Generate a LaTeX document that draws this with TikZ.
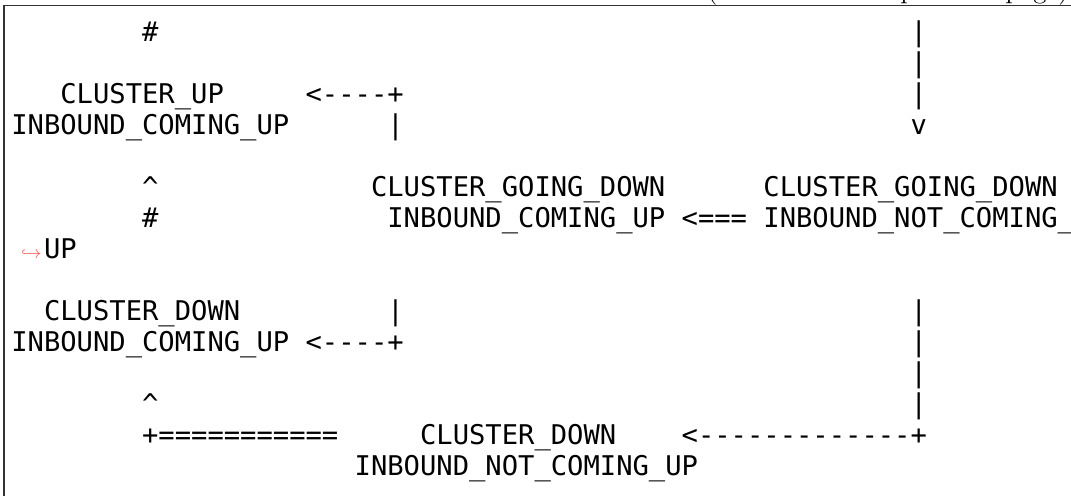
\documentclass[tikz,border=0pt]{standalone}
\usepackage{fontspec}
\setmonofont{DejaVu Sans Mono}
\usepackage{xcolor}
\usetikzlibrary{positioning}

\newcommand{\codesize}{\fontsize{13.58pt}{15.5pt}\selectfont}

\begin{document}
\begin{tikzpicture}[
    x=0.5pt, y=-0.5pt,
    code/.style={inner sep=0pt, outer sep=0pt, anchor=base west, font=\ttfamily\codesize},
    frameline/.style={draw=black!80, line width=0.6pt},
    hookmark/.style={inner sep=0pt, anchor=base east, text=red!65, font=\fontsize{9pt}{10pt}\selectfont}
]
\useasboundingbox (0,0) rectangle (1071,495);

% note from the page before, cut by the top edge
\node[anchor=base east, inner sep=0pt, font=\fontsize{13.5pt}{16pt}\selectfont] (contnote) at (1069,-2) {(continued from previous page)};

% frame of the listing
\coordinate (frametr) at (1072,5.5);
\coordinate (frametl) at (4,5.5);
\coordinate (framebl) at (4,496);
\draw[frameline] (frametr) -- (frametl) -- (framebl);

% listing: one column = one character, one row = one line
\begin{scope}[shift={(5.65pt,-20.5pt)}, x=8.175pt, y=-15.5pt]
\node[code] (hashtop) at (8,0) {\#};
\node[code] (barr0) at (55,0) {|};
\node[code] (barr1) at (55,1) {|};

\node[code] (clusterup) at (3,2) {CLUSTER\_UP};
\node[code] (arrowup) at (18,2) {<----+};
\node[code] (barr2) at (55,2) {|};
\node[code] (inbup) at (0,3) {INBOUND\_COMING\_UP};
\node[code] (barl3) at (23,3) {|};
\node[code] (downr) at (55,3) {v};

\node[code] (caretmid) at (8,5) {\textasciicircum};
\node[code] (goingleft) at (22,5) {CLUSTER\_GOING\_DOWN};
\node[code] (goingright) at (46,5) {CLUSTER\_GOING\_DOWN};
\node[code] (hashmid) at (8,6) {\#};
\node[code] (inbgoing) at (23,6) {INBOUND\_COMING\_UP};
\node[code] (arrowgoing) at (41,6) {<===};
\node[code] (inbnot) at (46,6) {INBOUND\_NOT\_COMING\_};
\node[code] (uptail) at (2,7) {UP};

\node[code] (clusterdown) at (2,9) {CLUSTER\_DOWN};
\node[code] (barl9) at (23,9) {|};
\node[code] (barr9) at (55,9) {|};
\node[code] (inbdown) at (0,10) {INBOUND\_COMING\_UP};
\node[code] (arrowdown) at (18,10) {<----+};
\node[code] (barr10) at (55,10) {|};
\node[code] (barr11) at (55,11) {|};
\node[code] (caretlow) at (8,12) {\textasciicircum};
\node[code] (barr12) at (55,12) {|};

\node[code] (eqline) at (8,13) {+===========};
\node[code] (downnot) at (25,13) {CLUSTER\_DOWN};
\node[code] (arrowlow) at (41,13) {<-------------+};
\node[code] (inbnotlow) at (21,14) {INBOUND\_NOT\_COMING\_UP};
\end{scope}

% mark of the broken line
\node[hookmark] (hook) at ([xshift=-1pt]uptail.base west) {$\hookrightarrow$};
\end{tikzpicture}
\end{document}
